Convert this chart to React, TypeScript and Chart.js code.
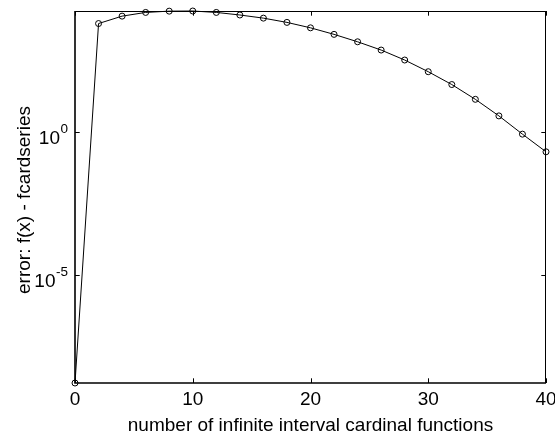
import React, { useEffect, useRef } from "react";
import { Chart, registerables } from "chart.js";

Chart.register(...registerables);

// Data
const xValues = [0, 2, 4, 6, 8, 10, 12, 14, 16, 18, 20, 22, 24, 26, 28, 30, 32, 34, 36, 38, 40];
const errorValues = [
  1.62e-9, 6607, 12023, 16218, 17989, 18197, 16218, 13183, 10233, 7244, 4677,
  2754, 1514, 776, 347, 135, 47.9, 14.5, 3.8, 0.87, 0.209,
];
const xTicks = [0, 10, 20, 30, 40];
const yTickExponents = [0, -5];
const xTitle = "number of infinite interval cardinal functions";
const yTitle = "error: f(x) - fcardseries";

const FONT = '"Liberation Sans", Arial, Helvetica, sans-serif';

const axesPlugin = {
  id: "matlabAxes",
  afterDatasetsDraw(chart: any) {
    const ctx = chart.ctx as CanvasRenderingContext2D;
    const { left, right, top, bottom } = chart.chartArea;
    const xs = chart.scales.x;
    const ys = chart.scales.y;
    const tl = 4.7;
    ctx.save();
    ctx.strokeStyle = "#000";
    ctx.fillStyle = "#000";
    // box
    ctx.lineWidth = 1;
    ctx.beginPath();
    ctx.moveTo(left, top + 0.5);
    ctx.lineTo(right, top + 0.5);
    ctx.moveTo(right - 0.5, top);
    ctx.lineTo(right - 0.5, bottom);
    ctx.stroke();
    ctx.lineWidth = 1.6;
    ctx.beginPath();
    ctx.moveTo(left, top);
    ctx.lineTo(left, bottom);
    ctx.lineTo(right, bottom);
    ctx.stroke();

    // x ticks
    ctx.lineWidth = 1;
    ctx.font = `19px ${FONT}`;
    ctx.textAlign = "center";
    ctx.textBaseline = "alphabetic";
    for (const v of xTicks) {
      const px = Math.round(xs.getPixelForValue(v)) + 0.5;
      ctx.beginPath();
      ctx.moveTo(px, bottom);
      ctx.lineTo(px, bottom - tl);
      ctx.moveTo(px, top);
      ctx.lineTo(px, top + tl);
      ctx.stroke();
      ctx.fillText(String(v), xs.getPixelForValue(v), 405);
    }

    // y ticks
    for (const e of yTickExponents) {
      const py = Math.round(ys.getPixelForValue(Math.pow(10, e))) + 0.5;
      ctx.beginPath();
      ctx.moveTo(left, py);
      ctx.lineTo(left + tl, py);
      ctx.moveTo(right, py);
      ctx.lineTo(right - tl, py);
      ctx.stroke();
      const sup = String(e);
      ctx.font = `13.5px ${FONT}`;
      ctx.textAlign = "right";
      const supW = ctx.measureText(sup).width;
      const xr = 68;
      ctx.fillText(sup, xr, py + 0.5);
      ctx.font = `19px ${FONT}`;
      ctx.fillText("10", xr - supW - 0.5, py + 11);
    }

    // titles
    ctx.font = `19px ${FONT}`;
    ctx.textAlign = "center";
    ctx.fillText(xTitle, (left + right) / 2, 431);
    ctx.save();
    ctx.translate(29.5, (top + bottom) / 2 + 3);
    ctx.rotate(-Math.PI / 2);
    ctx.fillText(yTitle, 0, 0);
    ctx.restore();
    ctx.restore();
  },
};

export default function App() {
  const canvasRef = useRef<HTMLCanvasElement | null>(null);

  useEffect(() => {
    const canvas = canvasRef.current;
    if (!canvas) return;
    const yMin = Math.min(...errorValues);
    const yMax = Math.max(...errorValues);
    const chart = new Chart(canvas, {
      type: "line",
      data: {
        datasets: [
          {
            data: xValues.map((x, i) => ({ x, y: errorValues[i] })),
            borderColor: "#000",
            borderWidth: 1,
            pointStyle: "circle",
            pointRadius: 3,
            pointBorderWidth: 1,
            pointBorderColor: "#000",
            pointBackgroundColor: "rgba(0,0,0,0)",
            fill: false,
            tension: 0,
            clip: false as any,
          },
        ],
      },
      options: {
        responsive: false,
        animation: false,
        devicePixelRatio: 1,
        layout: { padding: { left: 75, right: 9, top: 11, bottom: 53 } },
        plugins: {
          legend: { display: false },
          tooltip: { enabled: false },
          title: { display: false },
        },
        events: [],
        scales: {
          x: { type: "linear", min: 0, max: 40, display: false },
          y: { type: "logarithmic", min: yMin, max: yMax, display: false },
        },
      },
      plugins: [axesPlugin],
    });
    return () => chart.destroy();
  }, []);

  return (
    <div style={{ position: "fixed", left: 0, top: 0, width: 555, height: 436, background: "#fff" }}>
      <canvas ref={canvasRef} width={555} height={436} style={{ display: "block" }} />
    </div>
  );
}
